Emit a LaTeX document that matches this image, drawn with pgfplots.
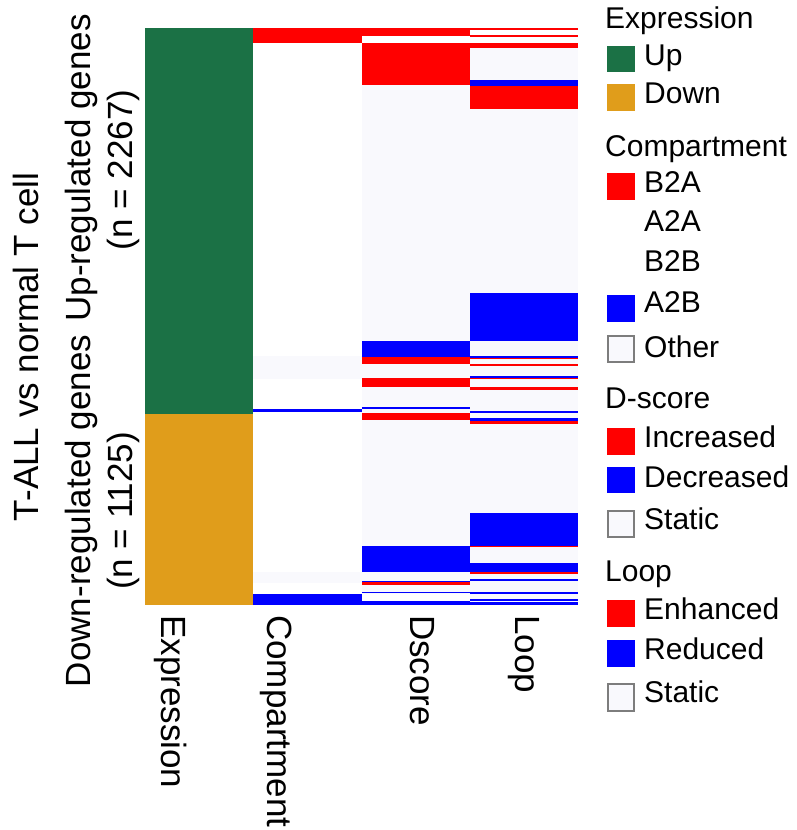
\documentclass[border=0pt]{standalone}
\usepackage{fontspec}
\setmainfont{Liberation Sans}
\usepackage{pgfplots}
\pgfplotsset{compat=1.18}
\definecolor{upgreen}{RGB}{27,113,69}
\definecolor{downorange}{RGB}{224,157,27}
\definecolor{staticc}{RGB}{249,249,253}
\definecolor{brdgray}{RGB}{125,125,125}
\newcommand{\band}[5]{\addplot[draw=none,fill=#1,forget plot] coordinates {(#2,#4) (#3,#4) (#3,#5) (#2,#5)};}
\newcommand{\lfont}{\fontsize{30}{35}\selectfont}
\newcommand{\bfont}{\fontsize{35}{42}\selectfont}
\newcommand{\legtitle}[2]{\node[anchor=base west,inner sep=0pt,font=\lfont] at (605,#1) {#2};}
\newcommand{\legentry}[2]{\node[anchor=base west,inner sep=0pt,font=\lfont] at (644,#1) {#2};}
\newcommand{\swatch}[3]{\fill[#1] (607,#2) rectangle (635,#3);}
\newcommand{\emptyswatch}[2]{\filldraw[fill=staticc,draw=brdgray,line width=1.5pt] (608,#1) rectangle (634,#2);}
\begin{document}
\begin{tikzpicture}
\useasboundingbox (0,0) rectangle (796pt,830pt);
\begin{axis}[at={(145pt,225pt)}, anchor=south west, scale only axis,
  width=433pt, height=577pt,
  xmin=0, xmax=4, ymin=0, ymax=3392, y dir=reverse,
  axis line style={draw=none}, ytick=\empty,
  xtick={0.148,1.136,2.457,3.427},
  xticklabels={Expression,Compartment,Dscore,Loop},
  major tick length=0pt,
  xticklabel style={rotate=-90, anchor=base west, inner sep=0pt, font=\bfont},
  xticklabel shift=10pt]
% Expression
\band{upgreen}{0}{1}{0}{2267}
\band{downorange}{0}{1}{2267}{3392}
% Compartment
\band{staticc}{1}{2}{1928}{2063}
\band{staticc}{1}{2}{3198}{3263}
\band{red}{1}{2}{0}{86}
\band{blue}{1}{2}{2242}{2260}
\band{blue}{1}{2}{3329}{3392}
% Dscore
\band{staticc}{2}{3}{0}{3392}
\band{white}{2}{3}{45}{90}
\band{white}{2}{3}{3329}{3367}
\band{red}{2}{3}{0}{45}
\band{red}{2}{3}{90}{335}
\band{red}{2}{3}{1936}{1977}
\band{red}{2}{3}{2059}{2109}
\band{red}{2}{3}{2265}{2304}
\band{red}{2}{3}{3259}{3275}
\band{blue}{2}{3}{1840}{1936}
\band{blue}{2}{3}{2230}{2242}
\band{blue}{2}{3}{3045}{3196}
\band{blue}{2}{3}{3251}{3259}
\band{blue}{2}{3}{3316}{3323}
\band{blue}{2}{3}{3367}{3392}
% Loop
\band{staticc}{3}{4}{0}{3392}
\band{white}{3}{4}{0}{90}
\band{red}{3}{4}{0}{12}
\band{red}{3}{4}{43}{51}
\band{red}{3}{4}{90}{119}
\band{red}{3}{4}{339}{478}
\band{red}{3}{4}{1940}{1948}
\band{red}{3}{4}{1977}{1987}
\band{red}{3}{4}{2056}{2065}
\band{red}{3}{4}{2112}{2130}
\band{red}{3}{4}{2309}{2328}
\band{red}{3}{4}{3043}{3053}
\band{red}{3}{4}{3196}{3208}
\band{blue}{3}{4}{306}{339}
\band{blue}{3}{4}{1556}{1838}
\band{blue}{3}{4}{1928}{1940}
\band{blue}{3}{4}{2044}{2056}
\band{blue}{3}{4}{2250}{2262}
\band{blue}{3}{4}{2294}{2309}
\band{blue}{3}{4}{2849}{3043}
\band{blue}{3}{4}{3143}{3196}
\band{blue}{3}{4}{3241}{3253}
\band{blue}{3}{4}{3316}{3326}
\band{blue}{3}{4}{3357}{3367}
\band{blue}{3}{4}{3372}{3392}
\end{axis}
\begin{scope}[shift={(0pt,830pt)}, x=1pt, y=-1pt]
% left labels
\node[rotate=90, anchor=base, inner sep=0pt, font=\bfont] at (38.5,347) {T-ALL vs normal T cell};
\node[rotate=90, anchor=base, inner sep=0pt, font=\bfont] at (90.5,168) {Up-regulated genes};
\node[rotate=90, anchor=base, inner sep=0pt, font=\bfont] at (132.5,170) {(n = 2267)};
\node[rotate=90, anchor=base, inner sep=0pt, font=\bfont] at (90.5,511) {Down-regulated genes};
\node[rotate=90, anchor=base, inner sep=0pt, font=\bfont] at (132.5,511) {(n = 1125)};
% legend
\legtitle{29}{Expression}
\swatch{upgreen}{46}{72}\legentry{66}{Up}
\swatch{downorange}{84}{111}\legentry{104}{Down}
\legtitle{157}{Compartment}
\swatch{red}{173}{200}\legentry{193}{B2A}
\legentry{232}{A2A}
\legentry{272}{B2B}
\swatch{blue}{295}{322}\legentry{313}{A2B}
\emptyswatch{336}{362}\legentry{358}{Other}
\legtitle{409}{D-score}
\swatch{red}{428}{455}\legentry{448}{Increased}
\swatch{blue}{467}{493}\legentry{488}{Decreased}
\emptyswatch{511}{537}\legentry{530}{Static}
\legtitle{582}{Loop}
\swatch{red}{600}{627}\legentry{620}{Enhanced}
\swatch{blue}{640}{667}\legentry{660}{Reduced}
\emptyswatch{684}{711}\legentry{703}{Static}
\end{scope}
\end{tikzpicture}
\end{document}
